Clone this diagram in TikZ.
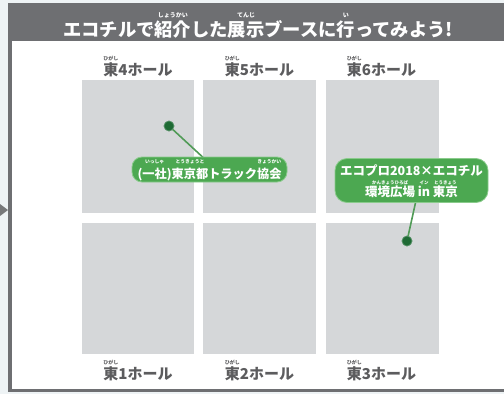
\documentclass[tikz,border=0pt]{standalone}
\usepackage{fontspec}
\newfontfamily\jp{Noto Sans CJK JP}
\definecolor{bggray}{HTML}{EEF3F5}
\definecolor{framegray}{HTML}{6E6F72}
\definecolor{boxgray}{HTML}{D5D7D9}
\definecolor{hallgray}{HTML}{5C5C5E}
\definecolor{cgreen}{HTML}{4CA851}
\definecolor{cedge}{HTML}{8ACB8C}
\definecolor{dgreen}{HTML}{1E6A34}
\definecolor{lgreen}{HTML}{519B57}
\definecolor{arrowgray}{HTML}{77787A}
\newcommand\rbsz{5}
\newcommand\rbup{15pt}
\newcommand\rbset[2]{\def\rbsz{#1}\def\rbup{#2}}
\newdimen\rbwd
\newcommand{\rb}[2]{\relax\settowidth\rbwd{#1}\rlap{\hbox to\rbwd{\hss\raisebox{\rbup}[0pt][0pt]{\fontsize{\rbsz}{\rbsz}\selectfont #2}\hss}}#1}
\begin{document}
\begin{tikzpicture}[x=1pt,y=-1pt,
  box/.style={fill=boxgray,draw=none,minimum width=112.5pt,inner sep=0},
  hall/.style={font=\jp\bfseries\fontsize{15}{15}\selectfont\rbset{5}{15pt},text=hallgray,anchor=base,inner sep=0},
  titlest/.style={font=\jp\bfseries\fontsize{18.3}{18.3}\selectfont\rbset{6}{18.5pt},text=white,anchor=base,inner sep=0},
  callout/.style={fill=cgreen,draw=cedge,line width=0.8pt,text=white,inner sep=0},
  ctext/.style={text=white,anchor=base,inner sep=0,font=\jp\bfseries\fontsize{12.5}{12.5}\selectfont\rbset{4.5}{12pt}},
  dotst/.style={circle,fill=dgreen,draw=dgreen!70!white,line width=0.6pt,minimum size=10pt,inner sep=0},
  conn/.style={draw=lgreen,line width=1.6pt}]
\useasboundingbox (0,0) rectangle (504,394);
% background and frame
\fill[bggray] (0,0) rectangle (504,394);
\fill[framegray] (8,3) rectangle (504,392);
\fill[white] (12,41) rectangle (504,389);
\fill[arrowgray] (0,204) -- (8,210) -- (0,216) -- cycle;
% title
\node[titlest] (title) at (258,36) {エコチルで\rb{紹介}{しょうかい}した\rb{展示}{てんじ}ブースに\rb{行}{い}ってみよう!};
% hall boxes
\node[box,minimum height=133pt] (h4) at (138,146.5) {};
\node[box,minimum height=133pt] (h5) at (259.5,146.5) {};
\node[box,minimum height=133pt] (h6) at (382.5,146.5) {};
\node[box,minimum height=131pt] (h1) at (138,288.5) {};
\node[box,minimum height=131pt] (h2) at (259.5,288.5) {};
\node[box,minimum height=131pt] (h3) at (382.5,288.5) {};
% hall labels
\node[hall] (l4) at (138,75) {\rb{東}{ひがし}4ホール};
\node[hall] (l5) at (259.5,75) {\rb{東}{ひがし}5ホール};
\node[hall] (l6) at (381.5,75) {\rb{東}{ひがし}6ホール};
\node[hall] (l1) at (138,379) {\rb{東}{ひがし}1ホール};
\node[hall] (l2) at (259.5,379) {\rb{東}{ひがし}2ホール};
\node[hall] (l3) at (381.5,379) {\rb{東}{ひがし}3ホール};
% connectors
\coordinate (t1) at (208,162);
\coordinate (t2) at (417,196);
\node[dotst] (dot1) at (169,126) {};
\node[dotst] (dot2) at (407,241) {};
\draw[conn] (dot1.center) -- (t1);
\draw[conn] (dot2.center) -- (t2);
\node[dotst] (dot1b) at (dot1) {};
\node[dotst] (dot2b) at (dot2) {};
% callouts
\node[callout,rounded corners=10pt,minimum width=155pt,minimum height=25pt,text height=19pt,text depth=2pt,
  font=\jp\bfseries\fontsize{12.2}{12.2}\selectfont\rbset{4.8}{15pt}] (call1) at (209.5,169.5)
  {(\rb{一社}{いっしゃ})\rb{東京都}{とうきょうと}トラック\rb{協会}{きょうかい}};
\node[callout,rounded corners=12pt,minimum width=153pt,minimum height=44pt,text height=10pt,text depth=21pt,
  font=\jp\bfseries\fontsize{12.5}{12.5}\selectfont] (call2) at (411.5,180.5)
  {エコプロ2018×エコチル};
\node[ctext] (call2t) at (411.5,196.5)
  {\rb{環境広場}{かんきょうひろば}\ \rb{in}{イン}\ \rb{東京}{とうきょう}};
\end{tikzpicture}
\end{document}
